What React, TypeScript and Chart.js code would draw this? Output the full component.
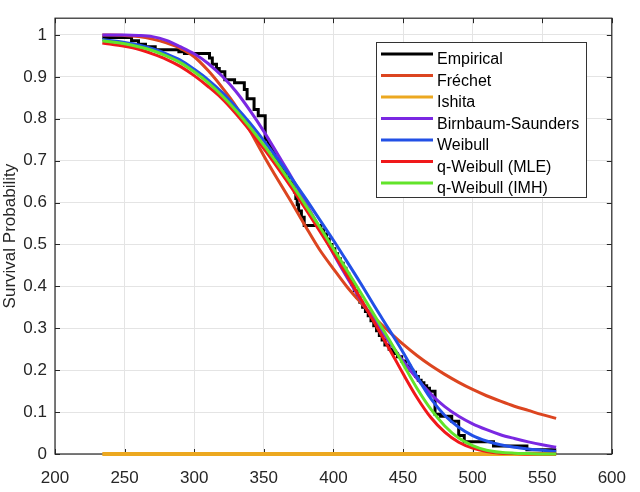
import { useEffect, useRef } from 'react';
import { Chart, registerables } from 'chart.js';

Chart.register(...registerables);

// x positions shared by the fitted curves
const fitX = [234, 250, 260, 270, 280, 290, 300, 310, 320, 330, 340, 350, 360, 370, 380, 390, 400, 410, 420, 430, 440, 450, 460, 470, 480, 490, 500, 510, 520, 530, 540, 550, 560];

const frechetY = [1.0, 0.999, 0.996, 0.99, 0.981, 0.968, 0.948, 0.915, 0.875, 0.83, 0.772, 0.712, 0.655, 0.6, 0.543, 0.488, 0.442, 0.398, 0.36, 0.324, 0.292, 0.262, 0.235, 0.211, 0.19, 0.171, 0.154, 0.139, 0.126, 0.114, 0.104, 0.094, 0.085];
const ishitaY = fitX.map(() => 0);
const birnbaumY = [1.0, 1.0, 0.999, 0.996, 0.987, 0.972, 0.955, 0.932, 0.902, 0.865, 0.82, 0.77, 0.715, 0.66, 0.6, 0.54, 0.478, 0.42, 0.366, 0.316, 0.268, 0.222, 0.18, 0.143, 0.113, 0.09, 0.072, 0.058, 0.046, 0.037, 0.029, 0.022, 0.016];
const weibullY = [0.989, 0.982, 0.976, 0.967, 0.955, 0.94, 0.918, 0.893, 0.863, 0.828, 0.79, 0.748, 0.704, 0.658, 0.61, 0.56, 0.51, 0.458, 0.405, 0.35, 0.297, 0.243, 0.185, 0.132, 0.092, 0.064, 0.044, 0.031, 0.022, 0.016, 0.012, 0.009, 0.006];
const qWeibullMleY = [0.981, 0.973, 0.966, 0.955, 0.942, 0.925, 0.903, 0.877, 0.848, 0.812, 0.772, 0.729, 0.683, 0.635, 0.585, 0.533, 0.48, 0.425, 0.368, 0.31, 0.252, 0.192, 0.135, 0.087, 0.052, 0.028, 0.014, 0.006, 0.002, 0.001, 0, 0, 0];
const qWeibullImhY = [0.986, 0.979, 0.972, 0.963, 0.95, 0.934, 0.912, 0.886, 0.855, 0.82, 0.78, 0.737, 0.692, 0.644, 0.594, 0.543, 0.49, 0.437, 0.383, 0.328, 0.273, 0.215, 0.157, 0.107, 0.067, 0.038, 0.02, 0.009, 0.004, 0.002, 0.001, 0, 0];

// empirical survival function (value holds until next x)
const empX = [234, 255, 260, 265, 272, 289, 293, 311, 313, 316, 318, 322, 329, 336, 338, 343, 346, 351, 353, 355, 357, 358, 360, 362, 364, 366, 368, 371, 372, 373, 374, 375, 377, 379, 391, 393, 395, 397, 399, 401, 403, 405, 407, 409, 411, 413, 415, 417, 419, 421, 423, 425, 427, 429, 431, 433, 435, 437, 440, 443, 446, 449, 452, 455, 457, 459, 461, 463, 465, 467, 469, 473, 477, 485, 490, 494, 515, 539, 559];
const empY = [0.994, 0.986, 0.978, 0.972, 0.965, 0.96, 0.956, 0.945, 0.93, 0.92, 0.912, 0.893, 0.886, 0.87, 0.848, 0.822, 0.807, 0.75, 0.738, 0.727, 0.716, 0.705, 0.694, 0.683, 0.672, 0.66, 0.649, 0.637, 0.625, 0.61, 0.595, 0.58, 0.565, 0.545, 0.535, 0.525, 0.513, 0.5, 0.49, 0.478, 0.466, 0.455, 0.443, 0.43, 0.418, 0.405, 0.39, 0.374, 0.362, 0.35, 0.34, 0.33, 0.318, 0.306, 0.294, 0.283, 0.272, 0.26, 0.25, 0.24, 0.232, 0.222, 0.21, 0.2, 0.195, 0.185, 0.176, 0.17, 0.163, 0.157, 0.15, 0.095, 0.09, 0.078, 0.044, 0.029, 0.019, 0.01, 0];

const xTicks = [200, 250, 300, 350, 400, 450, 500, 550, 600];
const yTicks = [0, 0.1, 0.2, 0.3, 0.4, 0.5, 0.6, 0.7, 0.8, 0.9, 1];

const seriesLabels = ['Empirical', 'Fréchet', 'Ishita', 'Birnbaum-Saunders', 'Weibull', 'q-Weibull (MLE)', 'q-Weibull (IMH)'];
const seriesColors = ['#000000', '#dc4520', '#eca820', '#7a28e2', '#2250e6', '#f0181a', '#62e42a'];

const FONT = "'Liberation Sans', Arial, sans-serif";

const pts = (xs: number[], ys: number[]) => xs.map((x, i) => ({ x, y: ys[i] }));

// MATLAB-like box with inward ticks, drawn under the curves
const boxTicks = {
  id: 'boxTicks',
  beforeDatasetsDraw(chart: any) {
    const { ctx, chartArea: a, scales } = chart;
    ctx.save();
    ctx.strokeStyle = '#262626';
    ctx.lineWidth = 1;
    ctx.beginPath();
    for (const t of scales.x.ticks) {
      const px = Math.round(scales.x.getPixelForValue(t.value)) + 0.5;
      ctx.moveTo(px, a.bottom); ctx.lineTo(px, a.bottom - 5);
      ctx.moveTo(px, a.top); ctx.lineTo(px, a.top + 5);
    }
    for (const t of scales.y.ticks) {
      const py = Math.round(scales.y.getPixelForValue(t.value)) + 0.5;
      ctx.moveTo(a.left, py); ctx.lineTo(a.left + 5, py);
      ctx.moveTo(a.right, py); ctx.lineTo(a.right - 5, py);
    }
    ctx.stroke();
    ctx.lineWidth = 1.2;
    ctx.strokeRect(a.left, a.top, a.right - a.left, a.bottom - a.top);
    ctx.restore();
  },
};

const insideLegend = {
  id: 'insideLegend',
  afterDraw(chart: any) {
    const { ctx } = chart;
    const x0 = 376, y0 = 42, w = 210, h = 155;
    ctx.save();
    ctx.fillStyle = '#ffffff';
    ctx.fillRect(x0, y0, w, h);
    ctx.strokeStyle = '#333333';
    ctx.lineWidth = 1;
    ctx.strokeRect(x0 + 0.5, y0 + 0.5, w, h);
    ctx.font = `16px ${FONT}`;
    ctx.textBaseline = 'middle';
    chart.data.datasets.forEach((ds: any, i: number) => {
      const ly = 54 + i * 21.5;
      ctx.strokeStyle = ds.borderColor;
      ctx.lineWidth = 3;
      ctx.beginPath();
      ctx.moveTo(381, ly);
      ctx.lineTo(433, ly);
      ctx.stroke();
      ctx.fillStyle = '#000000';
      ctx.fillText(ds.label, 437, ly + 6);
    });
    ctx.restore();
  },
};

export default function App() {
  const canvasRef = useRef<HTMLCanvasElement | null>(null);

  useEffect(() => {
    document.body.style.margin = '0';
    const canvas = canvasRef.current;
    if (!canvas) return;

    const curves = [
      pts(empX, empY),
      pts(fitX, frechetY),
      pts(fitX, ishitaY),
      pts(fitX, birnbaumY),
      pts(fitX, weibullY),
      pts(fitX, qWeibullMleY),
      pts(fitX, qWeibullImhY),
    ];

    const chart = new Chart(canvas, {
      type: 'line',
      data: {
        datasets: curves.map((data, i) => ({
          label: seriesLabels[i],
          data,
          borderColor: seriesColors[i],
          backgroundColor: seriesColors[i],
          borderWidth: i === 2 ? 4 : 3,
          pointRadius: 0,
          cubicInterpolationMode: 'monotone',
          stepped: i === 0 ? 'before' : false,
          order: 7 - i,
          clip: false,
        })),
      } as any,
      options: {
        animation: false,
        responsive: true,
        maintainAspectRatio: false,
        layout: { padding: { top: 7, right: 17, left: 0, bottom: 0 } },
        plugins: { legend: { display: false }, tooltip: { enabled: false } },
        scales: {
          x: {
            type: 'linear',
            min: 200,
            max: 600,
            afterBuildTicks: (s: any) => { s.ticks = xTicks.map((v) => ({ value: v })); },
            afterFit: (s: any) => { s.height = 38; },
            grid: { color: '#e4e4e4', drawTicks: false },
            border: { display: false },
            ticks: {
              color: '#262626',
              font: { family: FONT, size: 17 },
              padding: 14,
              maxRotation: 0,
              autoSkip: false,
              callback: (v: any) => String(v),
            },
          },
          y: {
            type: 'linear',
            min: 0,
            max: 1.04,
            afterBuildTicks: (s: any) => { s.ticks = yTicks.map((v) => ({ value: v })); },
            afterFit: (s: any) => { s.width = 55; },
            grid: { color: '#e4e4e4', drawTicks: false },
            border: { display: false },
            ticks: {
              color: '#262626',
              font: { family: FONT, size: 17 },
              padding: 8,
              autoSkip: false,
              callback: (v: any) => String(Number(Number(v).toFixed(1))),
            },
            title: {
              display: true,
              text: 'Survival Probability',
              color: '#262626',
              font: { family: FONT, size: 17 },
              padding: 0,
            },
          },
        },
      },
      plugins: [boxTicks, insideLegend],
    });

    return () => chart.destroy();
  }, []);

  return (
    <div style={{ width: 640, height: 492, position: 'relative', background: '#fff' }}>
      <canvas ref={canvasRef} />
    </div>
  );
}
